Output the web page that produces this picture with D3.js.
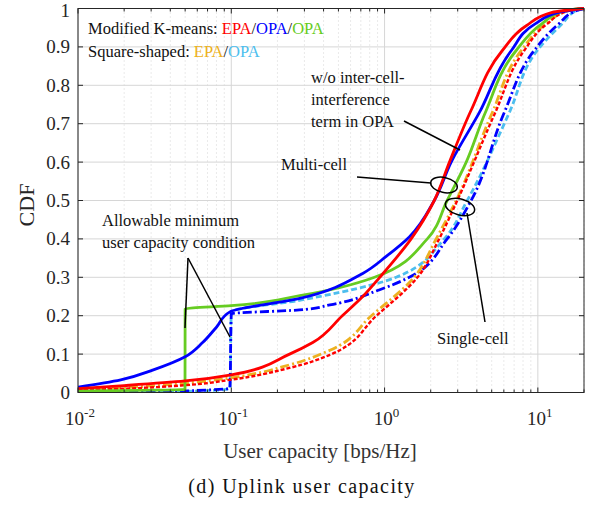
<!DOCTYPE html>
<html lang="en">
<head>
<meta charset="UTF-8">
<title>Uplink user capacity CDF</title>
<script src="https://d3js.org/d3.v7.min.js"></script>
<style>
  body { margin: 0; background: #fff; }
  svg { display: block; font-family: "Liberation Serif", "Times New Roman", serif; }
</style>
</head>
<body>
<svg id="chart"></svg>
<script>
// ---- data (x in bps/Hz, y = CDF) ----
const redSolid = [[0.01,0.01],[0.02,0.018],[0.05,0.03],[0.1,0.046],[0.24,0.10],[0.34,0.13],[0.53,0.2],[0.72,0.25],[0.93,0.3],[1.49,0.4],[2.11,0.5],[2.65,0.6],[3.67,0.735],[5.85,0.89],[8.4,0.955],[12.4,0.99],[20,1]];
const blueSolid = [[0.01,0.014],[0.019,0.033],[0.031,0.059],[0.05,0.093],[0.065,0.13],[0.08,0.17],[0.098,0.21],[0.28,0.245],[0.72,0.31],[1.03,0.355],[1.45,0.405],[2.11,0.5],[2.72,0.6],[4.14,0.728],[6.7,0.89],[9.6,0.96],[13.7,0.99],[20,1]];
const greenSolid = [[0.01,0.004],[0.0499,0.008],[0.05,0.218],[0.1,0.226],[0.28,0.252],[0.86,0.30],[1.9,0.40],[2.56,0.5],[3.41,0.6],[4.53,0.728],[7.2,0.89],[10.6,0.96],[15,0.995],[20,1]];
const orangeDD = [[0.01,0.008],[0.02,0.013],[0.05,0.024],[0.098,0.038],[0.24,0.072],[0.44,0.11],[0.82,0.2],[1.56,0.3],[2.17,0.4],[2.93,0.5],[5.03,0.728],[7.78,0.89],[11.3,0.96],[16,0.995],[20,1]];
const redDashed = [[0.01,0.006],[0.02,0.01],[0.05,0.019],[0.098,0.033],[0.24,0.064],[0.44,0.098],[0.885,0.2],[1.64,0.3],[2.27,0.4],[2.98,0.5],[5.26,0.728],[8.13,0.89],[11.5,0.96],[16,0.995],[20,1]];
const lightBlueDashed = [[0.01,0.002],[0.05,0.003],[0.098,0.01],[0.1,0.21],[0.278,0.24],[0.5,0.26],[1.19,0.30],[2.45,0.4],[3.46,0.5],[6.5,0.728],[9.88,0.89],[14.4,0.96],[18,0.995],[20,1]];
const blueDD = [[0.01,0.002],[0.05,0.004],[0.098,0.012],[0.1,0.205],[0.278,0.215],[0.44,0.228],[0.92,0.267],[1.45,0.30],[2.56,0.4],[3.67,0.5],[6.02,0.728],[9.44,0.89],[13.7,0.96],[18,0.995],[20,1]];

const series = [
  { data: lightBlueDashed, color: '#4dbeee', dash: '6,3', w: 2.8 },
  { data: blueDD, color: '#0000ff', dash: '9,3,2,3', w: 2.8 },
  { data: orangeDD, color: '#edb120', dash: '9,3,2,3', w: 2.8 },
  { data: redDashed, color: '#ff0000', dash: '4,2', w: 2.4 },
  { data: greenSolid, color: '#66cc22', dash: null, w: 2.8 },
  { data: blueSolid, color: '#0000ff', dash: null, w: 2.8 },
  { data: redSolid, color: '#ff0000', dash: null, w: 2.8 }
];

const yTicks = [0, 0.1, 0.2, 0.3, 0.4, 0.5, 0.6, 0.7, 0.8, 0.9, 1];
const yTickLabels = ['0', '0.1', '0.2', '0.3', '0.4', '0.5', '0.6', '0.7', '0.8', '0.9', '1'];
const xDecades = [0.01, 0.1, 1, 10];
const xExponents = ['-2', '-1', '0', '1'];

const width = 594, height = 506;
const pL = 78, pR = 584, pT = 8.5, pB = 392.5;

const svg = d3.select('#chart').attr('width', width).attr('height', height);

const x = d3.scaleLog().domain([0.01, 20]).range([pL, pR]);
const y = d3.scaleLinear().domain([0, 1]).range([pB, pT]);

// minor x ticks
const minor = [];
for (const d of [0.01, 0.1, 1, 10]) {
  for (let k = 2; k <= 9; k++) { if (d * k <= 20) minor.push(d * k); }
}

const grid = svg.append('g');
grid.selectAll('line.minor').data(minor).join('line')
  .attr('x1', d => x(d)).attr('x2', d => x(d))
  .attr('y1', pT).attr('y2', pB)
  .attr('stroke', '#d4d4d4').attr('stroke-width', 1).attr('stroke-dasharray', '1,3');
grid.selectAll('line.major').data(xDecades).join('line')
  .attr('x1', d => x(d)).attr('x2', d => x(d))
  .attr('y1', pT).attr('y2', pB)
  .attr('stroke', '#d6d6d6').attr('stroke-width', 1);
grid.selectAll('line.hy').data(yTicks).join('line')
  .attr('x1', pL).attr('x2', pR)
  .attr('y1', d => y(d)).attr('y2', d => y(d))
  .attr('stroke', '#d6d6d6').attr('stroke-width', 1);

// curves (CDFs are monotone in y, so interpolate x as a function of y)
svg.append('clipPath').attr('id', 'clip').append('rect')
  .attr('x', pL).attr('y', pT - 2).attr('width', pR - pL).attr('height', pB - pT + 2);

const line = d3.line()
  .x(d => x(d[0])).y(d => y(d[1]))
  .curve(d3.curveMonotoneY);

const curves = svg.append('g').attr('clip-path', 'url(#clip)');
series.forEach(s => {
  curves.append('path')
    .attr('d', line(s.data))
    .attr('fill', 'none')
    .attr('stroke', s.color)
    .attr('stroke-width', s.w)
    .attr('stroke-dasharray', s.dash)
    .attr('stroke-linejoin', 'round');
});

// frame and ticks (box on, ticks inward)
const axis = svg.append('g').attr('stroke', '#262626').attr('stroke-width', 1);
axis.append('rect').attr('x', pL).attr('y', pT).attr('width', pR - pL).attr('height', pB - pT)
  .attr('fill', 'none');
yTicks.forEach(t => {
  axis.append('line').attr('x1', pL).attr('x2', pL + 5).attr('y1', y(t)).attr('y2', y(t));
  axis.append('line').attr('x1', pR).attr('x2', pR - 5).attr('y1', y(t)).attr('y2', y(t));
});
xDecades.forEach(t => {
  axis.append('line').attr('x1', x(t)).attr('x2', x(t)).attr('y1', pB).attr('y2', pB - 5);
  axis.append('line').attr('x1', x(t)).attr('x2', x(t)).attr('y1', pT).attr('y2', pT + 5);
});
minor.forEach(t => {
  axis.append('line').attr('x1', x(t)).attr('x2', x(t)).attr('y1', pB).attr('y2', pB - 3);
  axis.append('line').attr('x1', x(t)).attr('x2', x(t)).attr('y1', pT).attr('y2', pT + 3);
});

// tick labels
const ink = '#262626';
yTicks.forEach((t, i) => {
  svg.append('text').attr('x', 70).attr('y', Math.max(y(t) + 6.5, 17))
    .attr('text-anchor', 'end').attr('font-size', 19).attr('fill', ink)
    .text(yTickLabels[i]);
});
xDecades.forEach((t, i) => {
  const tx = svg.append('text').attr('x', x(t) + 2).attr('y', 425)
    .attr('text-anchor', 'middle').attr('font-size', 19).attr('fill', ink);
  tx.append('tspan').text('10');
  tx.append('tspan').attr('font-size', 13).attr('dy', -8).text(xExponents[i]);
});

// axis titles
svg.append('text').attr('transform', 'translate(34,205) rotate(-90)')
  .attr('text-anchor', 'middle').attr('font-size', 22).attr('fill', ink).text('CDF');
svg.append('text').attr('x', 320).attr('y', 458)
  .attr('text-anchor', 'middle').attr('font-size', 21).attr('fill', '#333').text('User capacity [bps/Hz]');
svg.append('text').attr('x', 302).attr('y', 493)
  .attr('text-anchor', 'middle').attr('font-size', 20).attr('letter-spacing', 1.4).attr('fill', '#111')
  .text('(d) Uplink user capacity');

// legend text
const leg1 = svg.append('text').attr('x', 88).attr('y', 34).attr('font-size', 16.5).attr('fill', '#111');
leg1.append('tspan').text('Modified K-means: ');
leg1.append('tspan').attr('fill', '#ff0000').text('EPA');
leg1.append('tspan').text('/');
leg1.append('tspan').attr('fill', '#0000ff').text('OPA');
leg1.append('tspan').text('/');
leg1.append('tspan').attr('fill', '#66cc22').text('OPA');
const leg2 = svg.append('text').attr('x', 88).attr('y', 57).attr('font-size', 16.5).attr('fill', '#111');
leg2.append('tspan').text('Square-shaped: ');
leg2.append('tspan').attr('fill', '#edb120').text('EPA');
leg2.append('tspan').text('/');
leg2.append('tspan').attr('fill', '#4dbeee').text('OPA');

// annotations
const ann = svg.append('g').attr('font-size', 16.5).attr('fill', '#111');
[['w/o inter-cell-', 83], ['interference', 105], ['term in OPA', 127]].forEach(([t, yy]) => {
  ann.append('text').attr('x', 311).attr('y', yy).text(t);
});
ann.append('text').attr('x', 281).attr('y', 170).text('Multi-cell');
ann.append('text').attr('x', 437).attr('y', 344).text('Single-cell');
ann.append('text').attr('x', 102).attr('y', 226).text('Allowable minimum');
ann.append('text').attr('x', 102).attr('y', 248).text('user capacity condition');

const strokes = svg.append('g').attr('stroke', '#000').attr('stroke-width', 1.5).attr('fill', 'none');
strokes.append('line').attr('x1', 404).attr('y1', 121).attr('x2', 460).attr('y2', 150);
strokes.append('line').attr('x1', 357).attr('y1', 177).attr('x2', 431).attr('y2', 183);
strokes.append('ellipse').attr('cx', 444).attr('cy', 185).attr('rx', 13.5).attr('ry', 7.5)
  .attr('transform', 'rotate(12,444,185)');
strokes.append('ellipse').attr('cx', 460).attr('cy', 207).attr('rx', 15).attr('ry', 8)
  .attr('transform', 'rotate(15,460,207)');
strokes.append('line').attr('x1', 467).attr('y1', 213).attr('x2', 485).attr('y2', 322);
strokes.append('line').attr('x1', 188).attr('y1', 258).attr('x2', 185).attr('y2', 328);
strokes.append('line').attr('x1', 188).attr('y1', 258).attr('x2', 230).attr('y2', 337);
</script>
</body>
</html>
